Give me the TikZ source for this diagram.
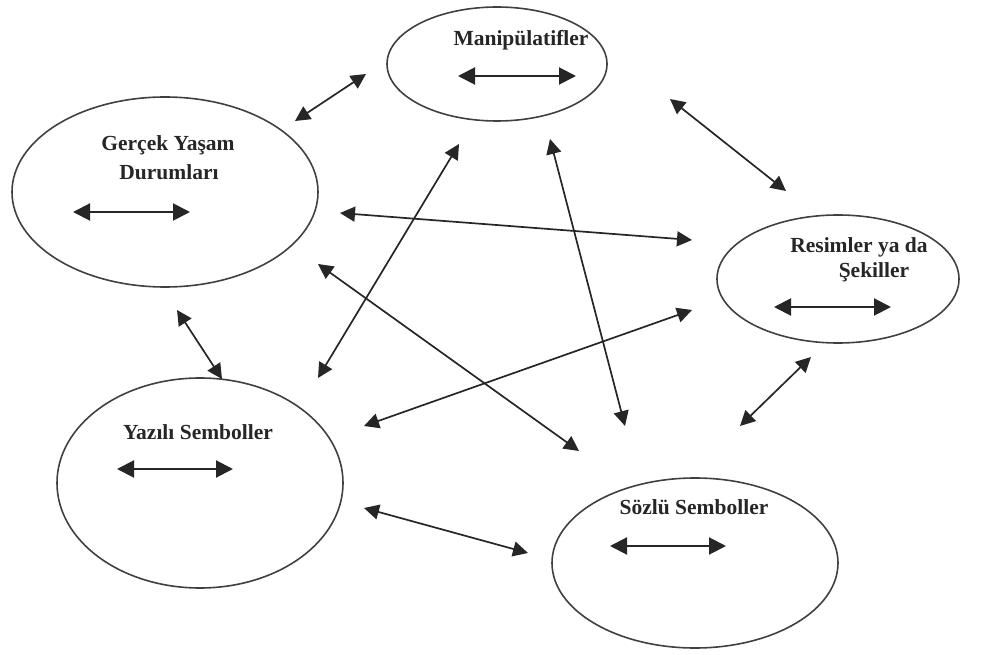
\documentclass[tikz,border=0pt]{standalone}
\usepackage{fontspec}
\setmainfont{Liberation Serif}
\usetikzlibrary{shapes.geometric,arrows.meta}
\tikzset{
  bubble/.style={ellipse,draw=black!75,line width=1.6pt,inner sep=0pt},
  lbl/.style={font=\bfseries\fontsize{21.5}{24}\selectfont,text=black!85,inner sep=0pt},
  link/.style={line width=1.7pt,black!85,{Triangle[length=15pt,width=15pt]}-{Triangle[length=15pt,width=15pt]}},
  inner/.style={line width=2pt,black!85,{Triangle[length=17pt,width=17pt]}-{Triangle[length=17pt,width=17pt]}}
}
\begin{document}
\begin{tikzpicture}[x=1pt,y=-1pt]
\useasboundingbox (0,0) rectangle (997,655);
% ellipses
\node[bubble,minimum width=220pt,minimum height=114pt] (man) at (497,64) {};
\node[bubble,minimum width=306pt,minimum height=190pt] (ger) at (165,192) {};
\node[bubble,minimum width=242pt,minimum height=128pt] (res) at (838,279) {};
\node[bubble,minimum width=286pt,minimum height=210pt] (yaz) at (200,483) {};
\node[bubble,minimum width=286pt,minimum height=170pt] (soz) at (695,563) {};
% labels
\node[lbl] (tman) at (521,40) {Manipülatifler};
\node[lbl] (tger1) at (168,145) {Gerçek Yaşam};
\node[lbl] (tger2) at (169,172) {Durumları};
\node[lbl] (tres1) at (859,247) {Resimler ya da};
\node[lbl] (tres2) at (874,272) {Şekiller};
\node[lbl] (tyaz) at (198,432) {Yazılı Semboller};
\node[lbl] (tsoz) at (694,507) {Sözlü Semboller};
% inner arrow ends
\coordinate (m1) at (458,76); \coordinate (m2) at (576,76);
\coordinate (g1) at (73,212); \coordinate (g2) at (190,212);
\coordinate (r1) at (774,307); \coordinate (r2) at (891,307);
\coordinate (y1) at (117,469); \coordinate (y2) at (233,469);
\coordinate (s1) at (610,546); \coordinate (s2) at (726,546);
\draw[inner] (m1) -- (m2);
\draw[inner] (g1) -- (g2);
\draw[inner] (r1) -- (r2);
\draw[inner] (y1) -- (y2);
\draw[inner] (s1) -- (s2);
% connector ends
\coordinate (a1) at (295,121); \coordinate (a2) at (366,74);
\coordinate (b1) at (670,99); \coordinate (b2) at (786,191);
\coordinate (c1) at (340,213); \coordinate (c2) at (692,240);
\coordinate (d1) at (177,310); \coordinate (d2) at (222,379);
\coordinate (e1) at (318,378); \coordinate (e2) at (459,144);
\coordinate (f1) at (550,139); \coordinate (f2) at (625,426);
\coordinate (h1) at (318,264); \coordinate (h2) at (579,451);
\coordinate (i1) at (364,426); \coordinate (i2) at (692,310);
\coordinate (j1) at (740,426); \coordinate (j2) at (811,357);
\coordinate (k1) at (364,508); \coordinate (k2) at (528,553);
\draw[link] (a1) -- (a2);
\draw[link] (b1) -- (b2);
\draw[link] (c1) -- (c2);
\draw[link] (d1) -- (d2);
\draw[link] (e1) -- (e2);
\draw[link] (f1) -- (f2);
\draw[link] (h1) -- (h2);
\draw[link] (i1) -- (i2);
\draw[link] (j1) -- (j2);
\draw[link] (k1) -- (k2);
\end{tikzpicture}
\end{document}
